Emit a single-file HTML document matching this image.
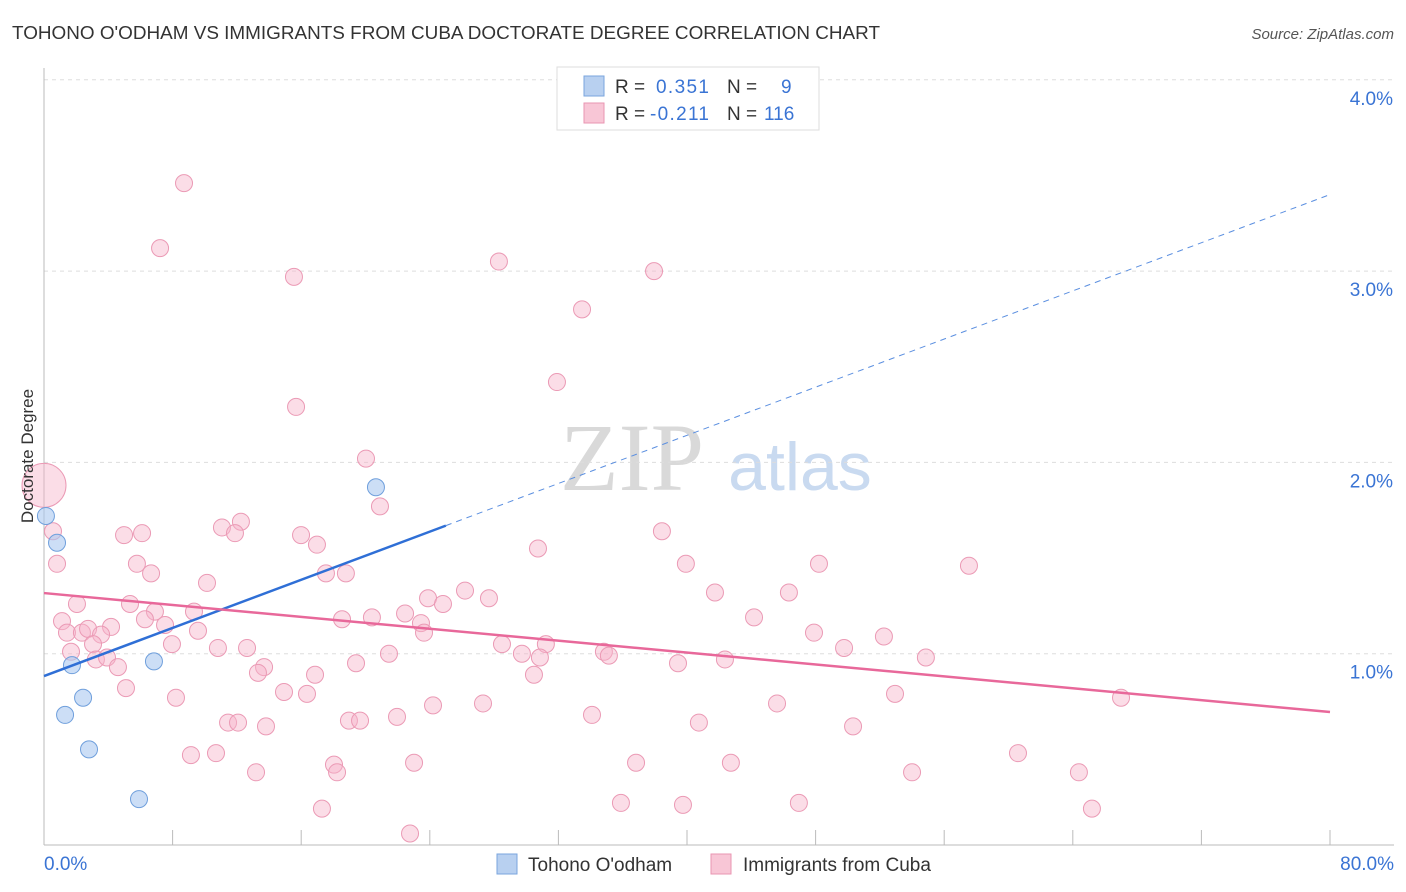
<!DOCTYPE html>
<html><head><meta charset="utf-8"><style>
body{margin:0;background:#fff;font-family:"Liberation Sans",sans-serif;}
svg{display:block}
</style></head><body>
<svg id="chart" width="1406" height="892" xmlns="http://www.w3.org/2000/svg">
<text x="12" y="39" font-size="18" fill="#333" textLength="868" lengthAdjust="spacingAndGlyphs">TOHONO O'ODHAM VS IMMIGRANTS FROM CUBA DOCTORATE DEGREE CORRELATION CHART</text>
<text x="1394" y="39" font-size="15" fill="#555" text-anchor="end" font-style="italic">Source: ZipAtlas.com</text>
<text x="632" y="490" font-size="96" font-family="Liberation Serif,serif" fill="#d9d9d9" text-anchor="middle">ZIP</text>
<text x="800" y="490" font-size="68" fill="#c9daf0" text-anchor="middle">atlas</text>
<g id="grid"></g>
<g id="axes"></g>
<g id="marks"></g>
<text transform="translate(33,456) rotate(-90)" font-size="17" fill="#333" text-anchor="middle">Doctorate Degree</text>
<g>
<rect x="557" y="67" width="262" height="63" fill="#fff" stroke="#ddd"/>
<rect x="584" y="76" width="20" height="20" fill="#b8d0f0" stroke="#7aa5de"/>
<rect x="584" y="103" width="20" height="20" fill="#f8c6d6" stroke="#e995b2"/>
<text x="615" y="93" font-size="19" fill="#333">R = <tspan x="656" fill="#3a74d4" textLength="53">0.351</tspan><tspan x="727">N = </tspan><tspan x="781" fill="#3a74d4">9</tspan></text>
<text x="615" y="120" font-size="19" fill="#333">R = <tspan x="650" fill="#3a74d4" textLength="59">-0.211</tspan><tspan x="727">N = </tspan><tspan x="764" fill="#3a74d4">116</tspan></text>
</g>
<g>
<rect x="497" y="854" width="20" height="20" fill="#b8d0f0" stroke="#7aa5de"/>
<text x="528" y="871" font-size="19" fill="#333">Tohono O'odham</text>
<rect x="711" y="854" width="20" height="20" fill="#f8c6d6" stroke="#e995b2"/>
<text x="743" y="871" font-size="19" fill="#333">Immigrants from Cuba</text>
</g>
</svg>
<script>
const yTicks=[1,2,3,4];
const xTickCount=[0,8,16,24,32,40,48,56,64,72,80];
const blueX=[0.12,0.81,1.74,2.43,1.31,2.80,5.91,6.84,20.65];
const blueY=[1.72,1.58,0.94,0.77,0.68,0.50,0.24,0.96,1.87];
const pinkX=[8.71,7.22,15.55,28.30,37.95,33.47,31.91,15.68,20.03,0,20.90,0.56,0.81,4.98,6.10,11.07,12.25,11.88,15.99,16.98,5.78,6.66,10.14,17.54,18.78,30.73,38.44,39.93,48.21,57.54,2.05,5.35,6.90,6.28,9.33,1.12,1.43,2.36,2.74,4.17,3.55,7.53,9.58,3.05,7.96,10.82,12.63,18.54,20.40,22.46,23.45,23.64,23.89,24.82,26.19,27.68,41.74,46.34,44.17,47.90,49.77,52.25,28.49,29.73,31.22,30.85,34.83,35.14,1.68,3.23,3.92,4.60,13.69,13.31,16.86,19.41,21.46,30.48,39.44,42.36,54.86,5.10,8.21,14.93,16.36,24.20,27.31,34.09,40.74,45.60,52.94,67.00,11.45,12.07,13.81,18.97,19.66,21.96,50.33,9.14,10.70,13.19,18.04,18.23,23.02,36.83,42.73,54.00,60.59,64.38,17.29,22.77,35.89,39.75,46.96,65.19];
const pinkY=[3.46,3.12,2.97,3.05,3.00,2.80,2.42,2.29,2.02,1.88,1.77,1.64,1.47,1.62,1.63,1.66,1.69,1.63,1.62,1.57,1.47,1.42,1.37,1.42,1.42,1.55,1.64,1.47,1.47,1.46,1.26,1.26,1.22,1.18,1.22,1.17,1.11,1.11,1.13,1.14,1.10,1.15,1.12,1.05,1.05,1.03,1.03,1.18,1.19,1.21,1.16,1.11,1.29,1.26,1.33,1.29,1.32,1.32,1.19,1.11,1.03,1.09,1.05,1.00,1.05,0.98,1.01,0.99,1.01,0.97,0.98,0.93,0.93,0.90,0.89,0.95,1.00,0.89,0.95,0.97,0.98,0.82,0.77,0.80,0.79,0.73,0.74,0.68,0.64,0.74,0.79,0.77,0.64,0.64,0.62,0.65,0.65,0.67,0.62,0.47,0.48,0.38,0.42,0.38,0.43,0.43,0.43,0.38,0.48,0.38,0.19,0.06,0.22,0.21,0.22,0.19];
const blueLine=[0.883,3.40];
const blueSolidEnd=25.0;
const pinkLine=[1.317,0.695];
const NS='http://www.w3.org/2000/svg';
const sx=v=>44+v*16.075, sy=v=>845-v*191.3;
function mk(tag,attrs,parent){const e=document.createElementNS(NS,tag);for(const k in attrs)e.setAttribute(k,attrs[k]);document.getElementById(parent).appendChild(e);return e;}
yTicks.forEach(t=>{
 const l=mk('line',{x1:44,x2:1394,y1:sy(t),y2:sy(t),stroke:'#ddd','stroke-dasharray':'4,4'},'grid');
 
 
 const tx=mk('text',{x:1393,y:sy(t)+25,'font-size':19,fill:'#3a74d4','text-anchor':'end'},'grid');
 tx.textContent=t.toFixed(1)+'%';
 
 
});
let a=mk('line',{x1:44,x2:44,y1:68,y2:845,stroke:'#bbb'},'axes');


a=mk('line',{x1:44,x2:1394,y1:845,y2:845,stroke:'#bbb'},'axes');


xTickCount.forEach(t=>{
 const l=mk('line',{x1:sx(t),x2:sx(t),y1:830,y2:845,stroke:'#bbb'},'axes');
 
 
});
let xl=mk('text',{x:44,y:870,'font-size':19,fill:'#3a74d4'},'axes');xl.textContent='0.0%';


xl=mk('text',{x:1394,y:870,'font-size':19,fill:'#3a74d4','text-anchor':'end'},'axes');xl.textContent='80.0%';


pinkX.forEach((x,i)=>{
 const big=(x===0&&pinkY[i]>1.8);
 const c=mk('circle',{cx:sx(x),cy:sy(pinkY[i]),r:big?22:8.5,fill:'rgba(246,180,202,0.45)',stroke:'#eb9ab5','stroke-width':1},'marks');
 
 
});
blueX.forEach((x,i)=>{
 const c=mk('circle',{cx:sx(x),cy:sy(blueY[i]),r:8.5,fill:'rgba(170,200,240,0.6)',stroke:'#6f9fdc','stroke-width':1},'marks');
 
 
});
const by=x=>blueLine[0]+(blueLine[1]-blueLine[0])*x/80;
let ln=mk('line',{x1:sx(0),y1:sy(by(0)),x2:sx(blueSolidEnd),y2:sy(by(blueSolidEnd)),stroke:'#2f6fd6','stroke-width':2.5},'marks');


ln=mk('line',{x1:sx(blueSolidEnd),y1:sy(by(blueSolidEnd)),x2:sx(80),y2:sy(by(80)),stroke:'#5b8fe0','stroke-width':1,'stroke-dasharray':'6,5'},'marks');


ln=mk('line',{x1:sx(0),y1:sy(pinkLine[0]),x2:sx(80),y2:sy(pinkLine[1]),stroke:'#e8689a','stroke-width':2.5},'marks');


</script>
</body></html>
